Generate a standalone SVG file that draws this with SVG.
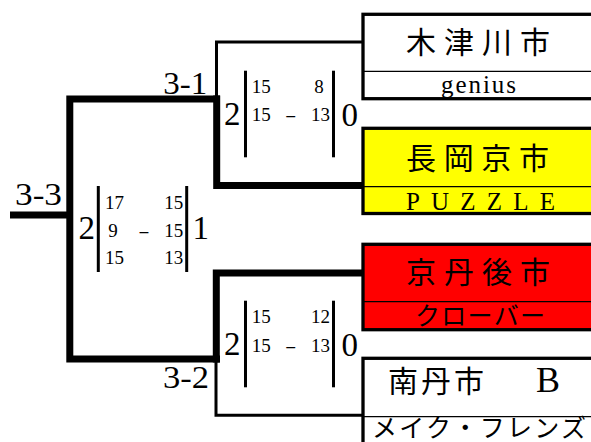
<svg xmlns="http://www.w3.org/2000/svg" width="591" height="442" viewBox="0 0 591 442">
<style>
.thin{fill:none;stroke:#000;stroke-width:3;stroke-linejoin:miter}
.thick{fill:none;stroke:#000;stroke-width:7;stroke-linejoin:miter}
.bar{stroke:#000;stroke-width:3}
.box{stroke:#000;stroke-width:3.3}
.div{stroke:#000;stroke-width:1.3}
.lbl{font-family:"Liberation Serif","DejaVu Serif",serif;font-size:31px;fill:#000}
.big{font-family:"Liberation Serif","DejaVu Serif",serif;font-size:33px;fill:#000}
.sm{font-family:"Liberation Serif","DejaVu Serif",serif;font-size:19px;fill:#000}
.name{font-family:"Liberation Serif","Noto Sans CJK JP",serif;font-size:30px;fill:#000}
.sub{font-family:"Liberation Serif","Noto Sans CJK JP",serif;font-size:25px;fill:#000}
</style>
<rect width="591" height="442" fill="#fff"/>
<g id="connectors">
<path class="thick" d="M10,215 H70"/>
<path class="thick" d="M220,99 H69.8 V359 H220"/>
<path class="thick" d="M216.7,95.5 V185.5 H363"/>
<path class="thin" d="M216.5,98 V42 H363"/>
<path class="thick" d="M363,273 H216.3 V362.5"/>
<path class="thin" d="M216,362 V415.3 H363"/>
</g>
<g id="match-final">
<text class="lbl" x="15" y="205" font-size="28" textLength="47" lengthAdjust="spacingAndGlyphs">3-3</text>
<text class="big" x="78.5" y="239.3">2</text>
<line class="bar" x1="98.3" y1="186" x2="98.3" y2="272"/>
<text class="sm" x="105" y="208.5">17</text>
<text class="sm" x="164.3" y="208.5">15</text>
<text class="sm" x="108.3" y="236.5">9</text>
<text class="sm" transform="translate(138.3,236.5) scale(1.8,1)">-</text>
<text class="sm" x="164.3" y="236.5">15</text>
<text class="sm" x="105" y="264">15</text>
<text class="sm" x="164.3" y="264">13</text>
<line class="bar" x1="186.7" y1="186" x2="186.7" y2="272"/>
<text class="big" x="192.5" y="239.3">1</text>
</g>
<g id="match-3-1">
<text class="lbl" x="163.3" y="94" textLength="44" lengthAdjust="spacingAndGlyphs">3-1</text>
<text class="big" x="224" y="125">2</text>
<line class="bar" x1="245.5" y1="70.7" x2="245.5" y2="157.3"/>
<text class="sm" x="251.7" y="92.7">15</text>
<text class="sm" x="314.3" y="92.7">8</text>
<text class="sm" x="251.7" y="120.7">15</text>
<text class="sm" transform="translate(285,120.7) scale(1.8,1)">-</text>
<text class="sm" x="311" y="120.7">13</text>
<line class="bar" x1="333.5" y1="70.7" x2="333.5" y2="157.3"/>
<text class="big" x="341.5" y="125.7">0</text>
</g>
<g id="match-3-2">
<text class="lbl" x="163" y="388.3" textLength="46" lengthAdjust="spacingAndGlyphs">3-2</text>
<text class="big" x="224" y="355">2</text>
<line class="bar" x1="245.5" y1="300.7" x2="245.5" y2="387.3"/>
<text class="sm" x="251.7" y="322.7">15</text>
<text class="sm" x="311" y="322.7">12</text>
<text class="sm" x="251.7" y="351.5">15</text>
<text class="sm" transform="translate(285,351.5) scale(1.8,1)">-</text>
<text class="sm" x="311" y="351.5">13</text>
<line class="bar" x1="333.5" y1="300.7" x2="333.5" y2="387.3"/>
<text class="big" x="341.5" y="356">0</text>
</g>
<g id="team-kizugawa">
<rect class="box" x="363" y="14.3" width="260" height="84.4" fill="#fff"/>
<line class="div" x1="363" y1="71.3" x2="600" y2="71.3"/>
<text class="name" x="406" y="53" textLength="144">木津川市</text>
<text class="sub" x="441" y="92.7" font-size="22" textLength="75">genius</text>
</g>
<g id="team-nagaokakyo">
<rect class="box" x="363" y="128.3" width="260" height="85.2" fill="#ffff00"/>
<line class="div" x1="363" y1="186.7" x2="600" y2="186.7"/>
<text class="name" x="406" y="169" textLength="143">長岡京市</text>
<text class="sub" x="406" y="210" font-size="26" textLength="149">PUZZLE</text>
</g>
<g id="team-kyotango">
<rect class="box" x="363" y="244.3" width="260" height="85.4" fill="#ff0000"/>
<line class="div" x1="363" y1="301.7" x2="600" y2="301.7"/>
<text class="name" x="406" y="282.7" textLength="144">京丹後市</text>
<text class="sub" x="415" y="325" textLength="130">クローバー</text>
</g>
<g id="team-nantan-b">
<rect class="box" x="363" y="358.3" width="260" height="110" fill="#fff"/>
<line class="div" x1="363" y1="416.7" x2="600" y2="416.7"/>
<text class="name" x="388" y="392.3" font-size="30" letter-spacing="3">南丹市　<tspan x="536" font-size="36" letter-spacing="0">B</tspan></text>
<text class="sub" x="372" y="436.5" font-size="22" textLength="214">メイク・フレンズ</text>
</g>
</svg>
